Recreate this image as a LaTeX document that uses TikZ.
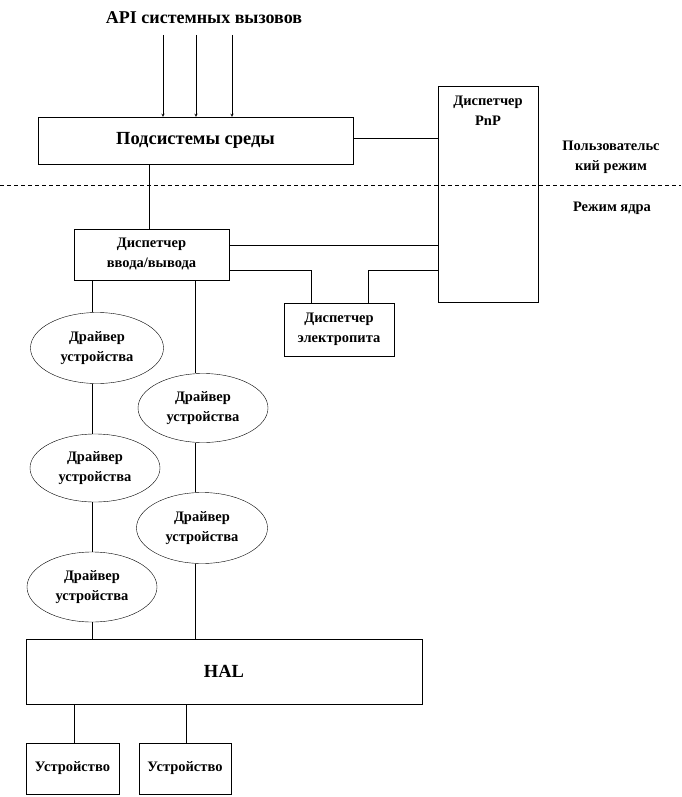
\documentclass[tikz,border=0pt]{standalone}
\usepackage{fontspec}
\setmainfont{Liberation Serif}
\usetikzlibrary{shapes.geometric}
\begin{document}
\begin{tikzpicture}[x=1pt,y=-1pt,
  every node/.style={font=\bfseries\fontsize{14.5}{20}\selectfont, align=center, inner sep=0pt},
  box/.style={draw, thin},
  drv/.style={draw, thin, ellipse},
  conn/.style={draw, thin},
  big/.style={font=\bfseries\fontsize{18.5}{20}\selectfont}]
\useasboundingbox (0,0) rectangle (681,797);
% title and arrows
\node[big, font=\bfseries\fontsize{18}{20}\selectfont] (api) at (204,18) {API системных вызовов};
\coordinate (a1) at (163,35); \coordinate (a2) at (196,35); \coordinate (a3) at (232,35);
% boxes
\node[box, big, minimum width=315, minimum height=47] (env) at (195.5,140.5) {Подсистемы среды};
\node[box, minimum width=100, minimum height=216] (pnp) at (488,194) {};
\node at (488,111) (pnptxt) {Диспетчер\\PnP};
\node[box, minimum width=155, minimum height=51] (io) at (151.5,254.5) {Диспетчер\\ввода/вывода};
\node[box, minimum width=110, minimum height=53] (pwr) at (339,329.5) {Диспетчер\\электропита};
\node (user) at (611,157) {Пользовательс\\кий режим};
\node (kern) at (612,208) {Режим ядра};
% drivers
\node[drv, minimum width=133, minimum height=71] (e1) at (97,348) {Драйвер\\устройства};
\node[drv, minimum width=130, minimum height=68] (e2) at (95,468) {Драйвер\\устройства};
\node[drv, minimum width=130, minimum height=70] (e3) at (92,587) {Драйвер\\устройства};
\node[drv, minimum width=130, minimum height=69] (e4) at (203,408) {Драйвер\\устройства};
\node[drv, minimum width=131, minimum height=71] (e5) at (202,528) {Драйвер\\устройства};
\node[box, big, minimum width=396, minimum height=65] (hal) at (224,671.5) {HAL};
\node[box, minimum width=93, minimum height=51] (d1) at (72.5,768.5) {Устройство};
\node[box, minimum width=92, minimum height=51] (d2) at (185,768.5) {Устройство};
% arrows from API
\foreach \c in {a1,a2,a3} \draw[thin,-stealth] (\c) -- (\c |- env.north);
% mode separator
\draw[thin, dashed, dash pattern=on 4pt off 3pt] (0,185) -- (681,185);
% connectors
\draw[conn] (env.east |- 0,138) -- (pnp.west |- 0,138);
\draw[conn] (env.south -| 149,0) -- (io.north -| 149,0);
\draw[conn] (io.east |- 0,245) -- (pnp.west |- 0,245);
\draw[conn] (io.east |- 0,270) -| (pwr.north -| 311,0);
\draw[conn] (pwr.north -| 368,0) |- (pnp.west |- 0,270);
\draw[conn] (io.south -| 92,0) -- (e1.north -| 92,0);
\draw[conn] (e1.south -| 92,0) -- (e2.north -| 92,0);
\draw[conn] (e2.south -| 92,0) -- (e3.north -| 92,0);
\draw[conn] (e3.south -| 92,0) -- (hal.north -| 92,0);
\draw[conn] (io.south -| 195,0) -- (e4.north -| 195,0);
\draw[conn] (e4.south -| 195,0) -- (e5.north -| 195,0);
\draw[conn] (e5.south -| 195,0) -- (hal.north -| 195,0);
\draw[conn] (hal.south -| 74,0) -- (d1.north -| 74,0);
\draw[conn] (hal.south -| 186,0) -- (d2.north -| 186,0);
\end{tikzpicture}
\end{document}
